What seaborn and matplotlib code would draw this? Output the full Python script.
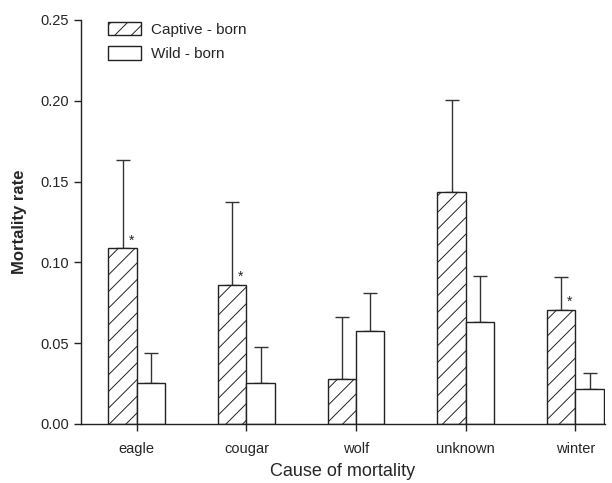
import matplotlib
matplotlib.use("Agg")
import matplotlib.pyplot as plt
from matplotlib.patches import Patch
import seaborn as sns
import pandas as pd
import numpy as np

causes = ["eagle", "cougar", "wolf", "unknown", "winter"]
groups = ["Captive - born", "Wild - born"]
captive_rate = [0.1087, 0.086, 0.028, 0.1436, 0.0705]
captive_upper = [0.1634, 0.1376, 0.066, 0.2005, 0.0912]
wild_rate = [0.0256, 0.0256, 0.0575, 0.0631, 0.0215]
wild_upper = [0.0441, 0.0478, 0.0809, 0.0918, 0.0314]
significant = [True, True, False, False, True]
y_ticks = [0.00, 0.05, 0.10, 0.15, 0.20, 0.25]

df = pd.DataFrame({
    "cause": causes * 2,
    "group": [groups[0]] * 5 + [groups[1]] * 5,
    "rate": captive_rate + wild_rate,
})

sns.set_style("ticks")
plt.rcParams["font.family"] = ["Liberation Sans", "DejaVu Sans"]
plt.rcParams["hatch.linewidth"] = 0.7
plt.rcParams["hatch.color"] = "#333333"

fig = plt.figure(figsize=(6.12, 4.83), dpi=100)
ax = fig.add_axes([0.1324, 0.1222, 0.8562, 0.8364])

sns.barplot(data=df, x="cause", y="rate", hue="group", order=causes,
            hue_order=groups, palette=["white", "white"], edgecolor="#222222",
            linewidth=1.0, width=0.518, errorbar=None, legend=False, ax=ax)

bars = [p for p in ax.patches]
cap_bars = bars[:5]
wild_bars = bars[5:10]
for p in cap_bars:
    p.set_hatch("//")

for blist, vals, ups in [(cap_bars, captive_rate, captive_upper),
                         (wild_bars, wild_rate, wild_upper)]:
    xs = [p.get_x() + p.get_width() / 2 for p in blist]
    lo = [0] * len(vals)
    hi = [u - v for u, v in zip(ups, vals)]
    ax.errorbar(xs, vals, yerr=[lo, hi], fmt="none", ecolor="#333333",
                elinewidth=1.0, capsize=5, capthick=1.0, zorder=0)

for p, v, s in zip(cap_bars, captive_rate, significant):
    if s:
        ax.text(p.get_x() + p.get_width() * 0.8, v + 0.0005, "*",
                ha="center", va="bottom", fontsize=10, color="#222222")

ax.set_xlim(-0.508, 4.27)
ax.set_ylim(0, 0.25)
ax.set_yticks(y_ticks)
ax.set_yticklabels([f"{t:.2f}" for t in y_ticks])
ax.tick_params(axis="both", labelsize=10.5, length=5, width=1.0, color="#222222")
ax.tick_params(axis="x", pad=8)
ax.set_xlabel("Cause of mortality", fontsize=13, labelpad=5)
ax.set_ylabel("Mortality rate", fontsize=12, fontweight="bold", labelpad=10)
sns.despine(ax=ax)
for s in ["left", "bottom"]:
    ax.spines[s].set_linewidth(1.0)
    ax.spines[s].set_color("#222222")

handles = [Patch(facecolor="white", edgecolor="#222222", hatch="//", linewidth=1.0),
           Patch(facecolor="white", edgecolor="#222222", linewidth=1.0)]
ax.legend(handles, groups, loc="upper left", bbox_to_anchor=(0.025, 1.03),
          frameon=False, fontsize=11, handlelength=2.2, handleheight=1.0,
          handletextpad=0.6, labelspacing=0.6)

fig.savefig("out.png", dpi=100)
